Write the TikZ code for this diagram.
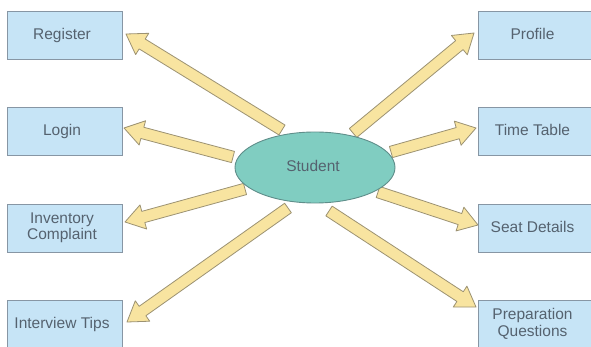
\documentclass[tikz,border=0pt]{standalone}
\usepackage{fontspec}
\setmainfont{Liberation Sans}
\usetikzlibrary{calc,shapes.geometric,shadows}
\definecolor{boxfill}{HTML}{C6E4F6}
\definecolor{boxline}{HTML}{8796A4}
\definecolor{txt}{HTML}{55626F}
\definecolor{ellfill}{HTML}{80CDC1}
\definecolor{ellline}{HTML}{5F8E8A}
\definecolor{arrfill}{HTML}{F8E4A0}
\definecolor{arrline}{HTML}{9C9272}
\pgfdeclarelayer{back}
\pgfsetlayers{back,main}
\tikzset{
  box/.style={draw=boxline, fill=boxfill, line width=0.9pt, minimum width=115pt, minimum height=48pt,
    inner sep=0pt, align=center, text=txt, font=\fontsize{15.5}{17}\selectfont,
    drop shadow={shadow xshift=1pt, shadow yshift=-1.2pt, opacity=0.25}},
  stu/.style={ellipse, draw=ellline, fill=ellfill, line width=0.9pt, minimum width=160pt, minimum height=71pt,
    inner sep=0pt, text=txt, font=\fontsize{15.5}{17}\selectfont},
  barr/.style={draw=arrline, fill=arrfill, line width=0.8pt, line join=round}
}
\newcommand{\blockarrow}[2]{%
  \coordinate (ba-h) at ($(#2)!19pt!(#1)$);
  \draw[barr] ($(#1)!5.8pt!90:(#2)$) -- ($(ba-h)!5.8pt!90:(#2)$) -- ($(ba-h)!12.5pt!90:(#2)$) -- (#2)
     -- ($(ba-h)!12.5pt!-90:(#2)$) -- ($(ba-h)!5.8pt!-90:(#2)$) -- ($(#1)!5.8pt!-90:(#2)$) -- cycle;
}
\begin{document}
\begin{tikzpicture}[x=1pt,y=-1pt]
\useasboundingbox (0,0) rectangle (591,347);
\clip (0,0) rectangle (591,347);
% left boxes
\node[box] (reg) at (64.5,35) {\hspace*{-5pt}\raisebox{2pt}{Register}};
\node[box] (log) at (64.5,131) {\hspace*{-5pt}\raisebox{2pt}{Login}};
\node[box] (inv) at (64.5,228) {\hspace*{-5pt}\raisebox{2pt}{\shortstack{Inventory\\[-1pt]Complaint}}};
\node[box] (int) at (64.5,324) {\hspace*{-5pt}Interview Tips};
% right boxes
\node[box] (pro) at (535.5,35) {\hspace*{-6pt}\raisebox{2pt}{Profile}};
\node[box] (tim) at (535.5,131) {\hspace*{-6pt}\raisebox{2pt}{Time Table}};
\node[box] (sea) at (535.5,228) {\hspace*{-6pt}\raisebox{2pt}{Seat Details}};
\node[box] (pre) at (535.5,324) {\hspace*{-6pt}\shortstack{Preparation\\[-1pt]Questions}};
% centre
\node[stu] (st) at (315,167.5) {\hspace*{-4pt}\raisebox{3pt}{Student}};
% arrow ends
\coordinate (t1) at (282,130);  \coordinate (h1) at (126,34);
\coordinate (t2) at (233,157);  \coordinate (h2) at (124,128);
\coordinate (t3) at (353,133);  \coordinate (h3) at (474,33);
\coordinate (t4) at (391,152);  \coordinate (h4) at (476,128);
\coordinate (t5) at (245,189);  \coordinate (h5) at (125,222);
\coordinate (t6) at (288,208);  \coordinate (h6) at (127,322);
\coordinate (t7) at (378,192);  \coordinate (h7) at (478,225);
\coordinate (t8) at (329,211);  \coordinate (h8) at (476,307);
\begin{pgfonlayer}{back}
\fill[white] (0,0) rectangle (591,347);
\blockarrow{t1}{h1}
\blockarrow{t2}{h2}
\blockarrow{t3}{h3}
\blockarrow{t4}{h4}
\blockarrow{t5}{h5}
\blockarrow{t6}{h6}
\blockarrow{t7}{h7}
\blockarrow{t8}{h8}
\end{pgfonlayer}
\end{tikzpicture}
\end{document}
